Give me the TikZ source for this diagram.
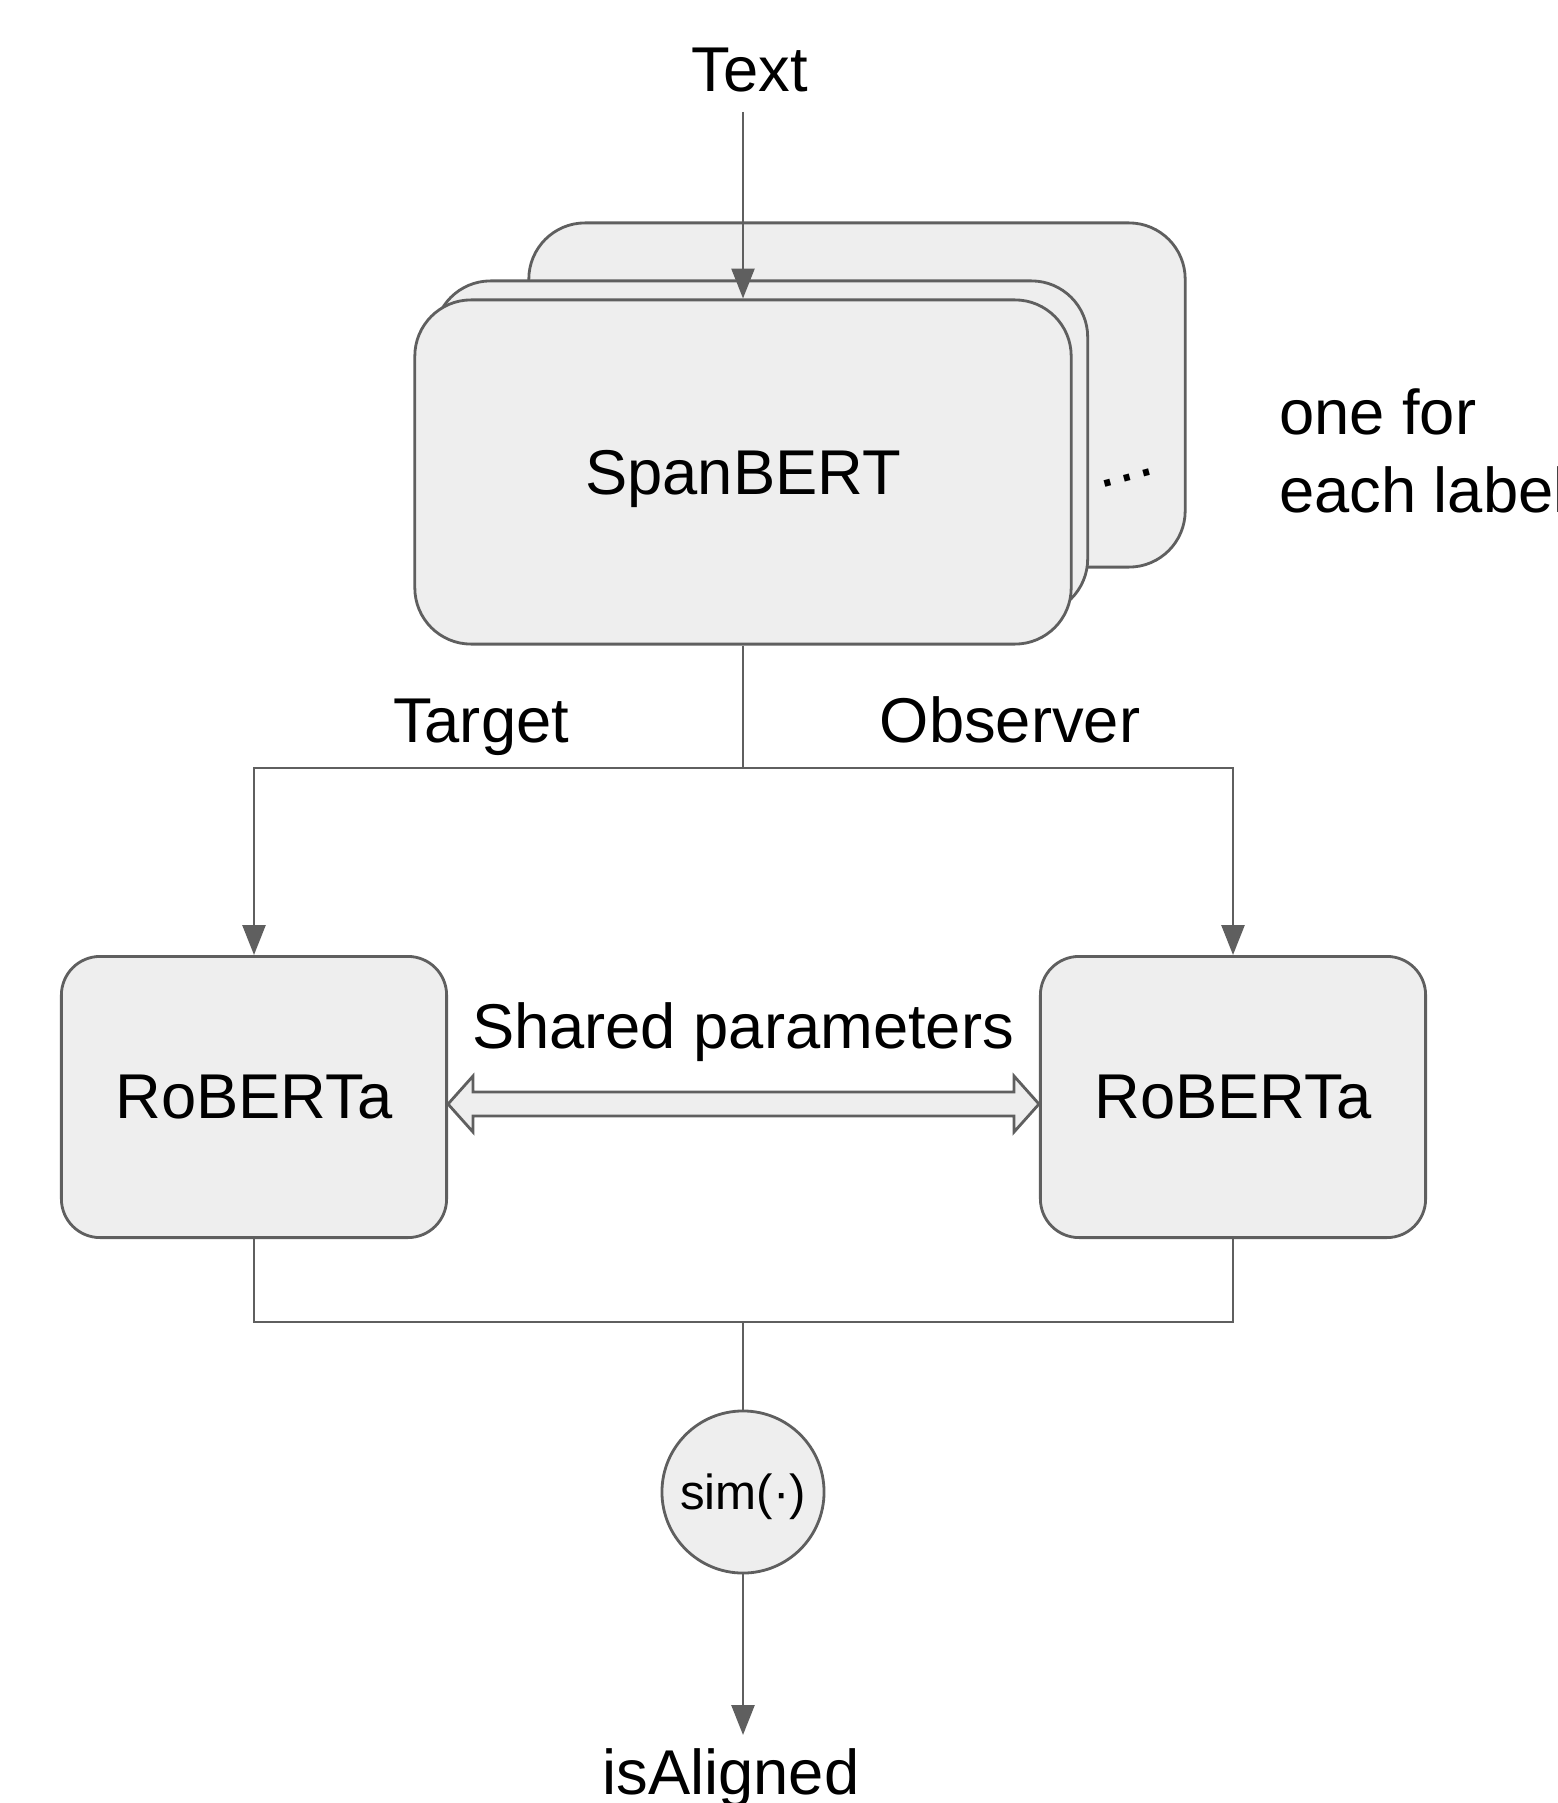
\documentclass[tikz,border=0pt]{standalone}
\usepackage{fontspec}
\setmainfont{Liberation Sans}
\usetikzlibrary{arrows.meta,calc}
\definecolor{boxfill}{HTML}{EEEEEE}
\definecolor{edgegray}{HTML}{5F5F5F}
\begin{document}
\begin{tikzpicture}[x=0.01cm,y=-0.01cm, >={Triangle[length=8.5pt,width=6.5pt]}, line width=0.8pt]
  \tikzset{model/.style={draw=edgegray, fill=boxfill, rounded corners=16pt,
             minimum width=6.56cm, minimum height=3.44cm, inner sep=0pt},
           encoder/.style={draw=edgegray, fill=boxfill, rounded corners=11pt,
             minimum width=3.85cm, minimum height=2.81cm, inner sep=0pt, text depth=0pt},
           conn/.style={draw=edgegray},
           big/.style={font=\fontsize{18}{22}\selectfont},
           dbl/.style={draw=edgegray, fill=boxfill, line join=miter}}
  \useasboundingbox (0,0) rectangle (1557,1803);
  % stacked SpanBERT copies
  \node[model] (back) at (857,395) {};
  \node[model, minimum width=6.53cm, minimum height=3.34cm] (mid) at (761,448) {};
  \node[model, big, text depth=0pt] (span) at (743,472) {SpanBERT};
  \node[big, rotate=15] (dots) at (1127,478) {\dots};
  \node[big, anchor=west, align=left] (note) at (1266,451) {one for\\each label};
  \node[big, anchor=base] (txt) at (750,92) {Text};
  \draw[conn,->] (span.north |- 0,112) -- (span.north);
  % two encoders
  \node[encoder, big] (rob1) at (254,1097) {RoBERTa};
  \node[encoder, big] (rob2) at (1233,1097) {RoBERTa};
  \coordinate (split) at (span.south |- 0,768);
  \draw[conn] (span.south) -- (split);
  \draw[conn,->] (split) -| (rob1.north);
  \draw[conn,->] (split) -| (rob2.north);
  \node[big, anchor=base] (tgt) at (481,742) {Target};
  \node[big, anchor=base] (obs) at (1010,742) {Observer};
  \node[big, anchor=base] (shared) at (743,1048) {Shared parameters};
  \path ([yshift=-2pt]rob1.east) coordinate (dl) ([yshift=-2pt]rob2.west) coordinate (dr);
  \draw[dbl] (dl) -- ($(dl)+(25,-28)$) -- ($(dl)+(25,-12)$) -- ($(dr)+(-25,-12)$)
    -- ($(dr)+(-25,-28)$) -- (dr) -- ($(dr)+(-25,28)$) -- ($(dr)+(-25,12)$)
    -- ($(dl)+(25,12)$) -- ($(dl)+(25,28)$) -- cycle;
  % similarity and output
  \node[circle, draw=edgegray, fill=boxfill, minimum size=1.62cm, inner sep=0pt,
        text depth=0pt, font=\fontsize{14}{17}\selectfont] (sim) at (743,1492) {sim(·)};
  \coordinate (merge) at (sim.north |- 0,1322);
  \draw[conn] (rob1.south) |- (merge) -| (rob2.south);
  \draw[conn] (merge) -- (sim.north);
  \node[big, anchor=base] (out) at (731,1794) {isAligned};
  \draw[conn,->] (sim.south) -- (sim.south |- out.north);
\end{tikzpicture}
\end{document}
